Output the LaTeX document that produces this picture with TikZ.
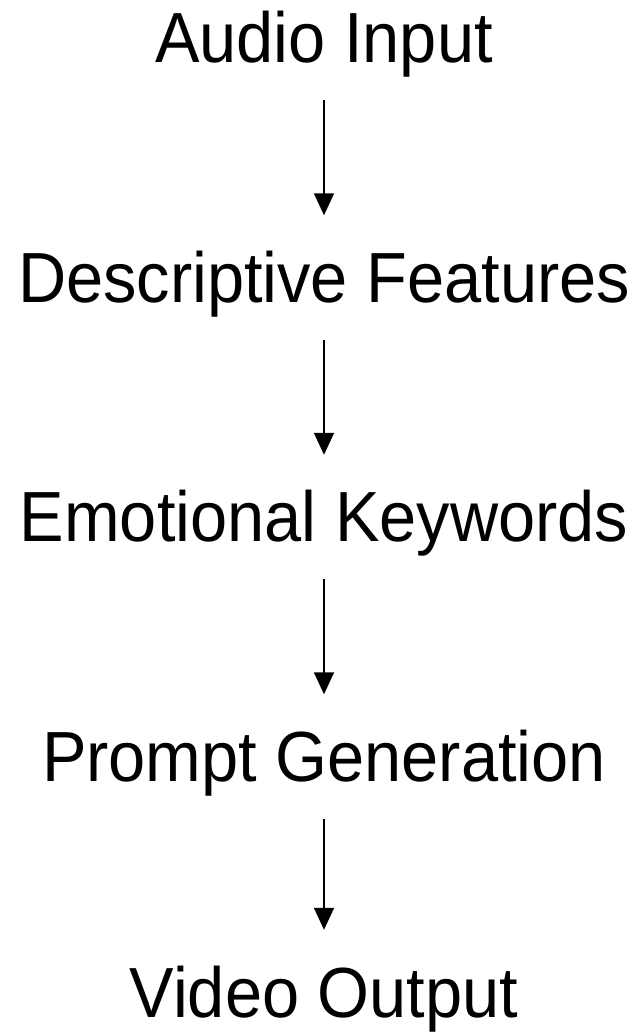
\documentclass[tikz,border=0pt]{standalone}
\usepackage{fontspec}
\setmainfont{Liberation Sans}[FakeStretch=0.94]
\usetikzlibrary{arrows.meta}
\tikzset{
  lbl/.style={anchor=base, inner sep=0pt, text height=51pt, text depth=15pt,
    font=\fontsize{71}{80}\selectfont},
  arr/.style={line width=1.6pt, -{Triangle[width=20pt,length=22pt]},
    shorten <=22pt, shorten >=36pt}
}
\begin{document}
\begin{tikzpicture}[x=1pt,y=1pt]
\useasboundingbox (0,0) rectangle (638,1033);
\node[lbl] (a) at (324,970) {Audio Input};
\node[lbl] (b) at (324,730.5) {Descriptive Features};
\node[lbl] (c) at (324,491) {Emotional Keywords};
\node[lbl] (d) at (324,251.5) {Prompt Generation};
\node[lbl] (e) at (324,16) {Video Output};
\draw[arr] (a.south) -- (b.north);
\draw[arr] (b.south) -- (c.north);
\draw[arr] (c.south) -- (d.north);
\draw[arr] (d.south) -- (e.north);
\end{tikzpicture}
\end{document}
